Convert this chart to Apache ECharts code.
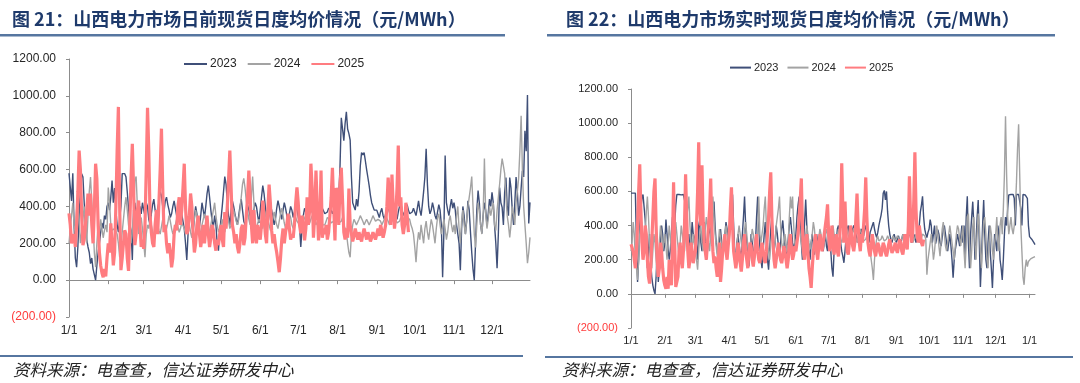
<!DOCTYPE html>
<html>
<head>
<meta charset="utf-8">
<script src="https://cdn.jsdelivr.net/npm/echarts@6.0.0/dist/echarts.min.js"></script>
<style>
html,body{margin:0;padding:0;background:#fff;}
#chart{width:1080px;height:383px;}
</style>
</head>
<body>
<div id="chart"></div>
<script>
// ---------- labels & structure ----------
const monthDays = [31,28,31,30,31,30,31,31,30,31,30,31];
const extraDaysRight = 6; // real-time chart runs a few days into next January
const seriesNames = ['2023','2024','2025'];
const yTicks = [-200,0,200,400,600,800,1000,1200];
const titleLeft = '图 21：山西电力市场日前现货日度均价情况（元/MWh）';
const titleRight = '图 22：山西电力市场实时现货日度均价情况（元/MWh）';
const sourceText = '资料来源：电查查，信达证券研发中心';

// ---------- 日前 (day-ahead) daily averages ----------
const da2023 = [
/*Jan*/580,575,430,580,300,120,70,180,350,480,578,560,420,300,220,180,150,90,120,60,30,0,80,150,200,260,310,280,350,330,400,
/*Feb*/420,380,450,540,420,500,380,300,260,330,400,578,578,578,560,480,390,300,270,110,380,420,350,300,380,400,360,420,
/*Mar*/380,350,420,400,330,300,360,410,440,380,350,390,420,480,460,400,370,430,450,410,380,340,360,400,430,390,350,370,410,380,360,
/*Apr*/350,280,200,110,250,330,380,300,260,340,400,360,310,290,350,420,380,340,400,470,513,450,380,320,290,350,300,200,160,260,
/*May*/330,400,480,562,520,420,350,300,380,430,400,360,330,300,350,400,440,380,320,300,340,410,380,350,300,330,380,420,400,350,310,
/*Jun*/380,450,513,470,400,330,300,360,410,380,340,300,330,390,432,400,360,330,380,420,390,350,320,360,400,380,340,370,410,390,
/*Jul*/380,300,180,280,350,390,370,340,360,380,400,370,350,360,390,380,360,340,370,390,380,360,350,370,390,400,380,360,380,400,420,
/*Aug*/400,450,620,881,820,757,850,914,820,795,760,560,420,400,380,440,400,480,620,692,680,692,648,600,557,513,460,420,400,380,390,
/*Sep*/380,360,340,370,390,350,330,360,380,400,370,350,340,360,380,350,330,370,400,420,380,350,360,390,410,380,360,350,370,390,
/*Oct*/370,350,390,430,380,350,410,480,560,713,520,400,360,380,420,390,350,330,370,410,380,300,16,260,676,420,380,350,400,440,390,
/*Nov*/420,380,300,250,200,54,280,400,350,250,320,430,380,260,150,60,0,200,380,486,420,300,254,350,420,380,300,360,440,400,
/*Dec*/476,420,300,200,65,250,503,420,395,300,480,557,400,350,557,500,380,300,420,560,480,350,400,500,594,560,811,700,1005,308,422
];
const da2024 = [
/*Jan*/200,280,350,420,300,250,380,450,320,200,260,330,400,300,200,350,480,560,420,300,150,70,200,300,260,330,280,230,270,300,260,
/*Feb*/503,420,300,270,260,280,270,250,200,124,180,260,330,400,450,380,300,250,200,280,350,540,562,400,250,300,340,280,
/*Mar*/200,124,250,300,280,330,300,260,240,280,320,300,270,250,290,330,300,260,280,310,350,320,280,250,270,300,330,290,260,280,310,
/*Apr*/300,280,250,320,350,300,260,230,280,330,380,350,300,270,250,300,330,360,320,280,250,270,300,340,380,420,350,300,260,280,
/*May*/300,330,280,260,300,350,320,280,300,340,380,350,320,300,330,380,450,520,552,500,430,380,330,300,450,562,420,300,280,310,330,
/*Jun*/330,300,280,320,350,380,330,300,270,300,340,370,330,300,280,320,360,390,350,310,280,300,330,360,340,300,280,310,340,320,
/*Jul*/320,300,310,330,350,340,320,300,290,310,330,350,340,320,300,310,330,340,320,300,290,300,320,340,350,330,310,300,320,340,330,
/*Aug*/330,310,300,320,340,300,280,260,200,150,124,250,300,330,320,300,310,330,350,340,320,300,310,330,320,300,310,330,350,340,320,
/*Sep*/310,330,340,320,300,310,330,350,340,320,300,310,320,340,350,330,310,300,320,340,330,310,300,320,340,350,330,300,280,250,
/*Oct*/180,97,200,260,220,300,250,200,280,320,260,220,280,330,300,250,200,280,340,360,300,250,290,330,280,220,260,320,350,300,260,
/*Nov*/300,250,350,400,280,200,320,380,300,250,330,400,449,500,562,400,250,178,300,420,380,300,250,350,660,360,280,330,400,350,
/*Dec*/350,420,300,270,380,450,520,600,660,620,578,450,350,300,232,300,400,360,300,420,480,550,700,892,600,400,300,200,92,150,232
];
const da2025 = [
/*Jan*/362,300,200,190,250,180,300,480,703,600,350,190,220,300,380,470,350,470,300,200,380,632,550,300,150,80,40,15,60,20,120,
/*Feb*/200,150,308,200,80,150,400,700,940,400,54,120,200,270,250,120,50,300,560,740,500,190,250,380,432,300,180,220,
/*Mar*/170,300,600,935,700,350,260,200,180,300,380,250,420,600,822,500,260,300,200,146,200,150,70,120,250,300,270,400,450,300,380,
/*Apr*/500,632,400,250,270,350,470,400,250,150,200,300,350,250,180,230,300,200,280,350,250,180,230,300,270,200,160,220,190,250,
/*May*/300,220,180,370,280,400,550,703,500,300,260,200,250,180,146,200,280,300,190,230,350,450,595,450,300,200,380,250,200,300,250,
/*Jun*/220,300,432,350,250,200,380,519,420,270,200,250,190,150,100,43,120,220,280,200,260,300,360,280,220,250,230,300,420,503,
/*Jul*/420,300,254,350,300,216,280,450,300,380,632,500,230,350,595,400,216,300,595,230,280,250,300,220,260,350,450,610,400,216,500,
/*Aug*/480,300,520,610,430,260,220,280,230,497,300,250,210,240,280,250,220,260,230,210,250,280,250,220,260,240,210,230,260,240,220,
/*Sep*/250,280,240,300,270,230,260,300,400,557,450,300,573,400,280,350,500,730,400,450,300,250,300,420,350,260
];

// ---------- 实时 (real-time) daily averages ----------
const rt2023 = [
/*Jan*/590,585,590,580,590,300,70,200,400,494,560,582,582,435,300,150,250,350,200,100,50,20,0,100,250,70,150,300,400,350,250,
/*Feb*/300,435,350,260,200,259,350,450,300,400,520,582,582,582,582,580,582,582,582,520,400,300,350,250,300,420,350,300,
/*Mar*/350,280,200,400,435,300,250,350,420,300,200,250,330,400,350,280,450,541,400,300,250,200,318,380,300,220,280,350,420,380,300,
/*Apr*/300,400,500,582,400,250,200,300,350,280,200,250,350,450,570,400,300,220,160,250,350,300,250,200,300,450,570,400,280,200,
/*May*/150,250,350,420,300,200,141,250,380,450,350,250,300,400,350,280,220,300,380,430,350,280,200,250,320,400,450,380,300,250,300,
/*Jun*/350,450,520,570,400,300,200,300,420,553,400,300,250,200,300,350,280,230,300,350,300,250,280,330,300,250,300,350,280,250,
/*Jul*/350,300,250,150,100,250,350,300,380,400,350,300,250,220,182,250,330,380,400,350,300,330,380,400,380,350,320,300,330,350,380,
/*Aug*/360,340,380,400,350,330,300,360,380,400,420,380,350,330,360,400,430,460,500,590,606,550,600,480,400,350,320,300,330,350,320,
/*Sep*/300,320,340,310,290,320,350,330,300,280,310,340,360,330,300,320,350,330,300,320,340,400,480,520,571,450,380,350,330,360,
/*Oct*/380,435,400,300,350,400,294,330,376,350,300,280,330,380,400,350,300,250,300,350,280,200,94,200,259,300,350,318,280,330,400,
/*Nov*/300,400,200,450,571,300,150,350,450,540,400,200,300,450,550,300,41,200,400,550,350,200,150,300,400,250,150,35,200,350,
/*Dec*/300,250,400,350,200,150,82,200,350,450,400,500,580,582,582,580,582,560,400,582,582,582,580,500,400,582,582,580,582,560,400,
/*Jan+*/335,340,320,310,300,288
];
const rt2024 = [
/*Jan*/250,300,420,350,200,150,82,200,350,450,400,300,250,350,480,570,450,300,200,150,250,350,300,200,100,150,300,400,350,250,300,
/*Feb*/350,280,200,300,400,330,250,200,300,380,420,350,280,220,300,400,350,300,250,350,450,500,570,400,300,250,350,300,
/*Mar*/250,200,141,250,350,400,300,250,300,380,450,400,300,250,350,450,570,450,350,280,220,300,380,330,280,250,300,350,400,350,300,
/*Apr*/350,450,570,400,300,250,200,280,350,400,350,300,250,300,380,420,350,280,220,260,320,380,350,300,250,300,350,570,350,300,
/*May*/350,400,500,570,400,300,250,200,300,350,300,250,300,400,450,500,570,400,300,250,300,350,300,250,300,450,570,500,570,400,300,
/*Jun*/250,300,380,420,350,300,250,200,280,350,400,350,300,260,300,350,420,380,300,250,280,330,380,350,300,270,300,340,380,350,
/*Jul*/330,300,350,380,400,350,320,300,340,380,360,330,300,320,350,380,400,370,340,320,300,330,360,380,350,320,300,330,360,380,350,
/*Aug*/330,310,300,320,340,300,280,250,200,150,82,200,280,320,340,310,300,320,340,330,310,300,320,340,330,310,300,320,340,330,310,
/*Sep*/320,340,330,310,300,320,350,330,310,300,320,340,360,340,320,300,310,330,350,340,320,300,310,330,350,360,340,320,112,200,
/*Oct*/250,300,350,280,200,250,330,400,350,280,220,300,380,420,350,280,250,300,350,400,350,300,250,200,280,350,400,380,320,280,350,
/*Nov*/400,250,150,300,450,470,300,150,250,400,450,300,200,350,470,400,250,150,300,420,450,350,200,150,300,400,350,250,200,300,
/*Dec*/350,450,300,250,400,450,350,500,700,1041,700,450,350,400,450,380,350,400,500,650,850,994,700,400,250,100,53,150,200,159,190,
/*Jan+*/200,205,210,212,215,218
];
const rt2025 = [
/*Jan*/290,280,250,200,150,250,400,600,759,500,300,200,250,400,350,200,100,60,150,300,450,600,676,400,200,100,150,300,250,150,80,
/*Feb*/50,30,100,30,200,150,50,300,653,300,40,30,100,250,300,200,150,250,400,700,450,250,150,200,300,250,180,220,
/*Mar*/250,400,600,888,500,400,753,450,300,250,200,300,400,500,676,400,250,180,220,150,100,200,300,70,150,250,300,350,250,200,280,
/*Apr*/350,500,624,400,250,200,150,200,300,250,180,130,200,300,350,250,200,150,250,300,280,200,160,220,300,350,250,200,180,250,
/*May*/300,250,200,180,250,350,450,600,712,450,300,200,150,200,250,300,250,200,180,220,280,250,200,150,200,300,350,250,200,230,280,
/*Jun*/250,300,350,450,550,676,400,250,200,300,350,250,150,100,35,150,250,300,350,250,200,280,350,300,250,300,350,400,450,524,
/*Jul*/350,250,300,400,280,230,300,350,250,220,300,450,765,500,300,541,350,250,230,300,400,350,280,250,300,450,588,400,300,250,350,
/*Aug*/300,400,500,682,450,300,250,220,280,350,300,250,220,260,300,280,240,220,260,300,280,240,220,250,290,320,280,240,230,270,300,
/*Sep*/260,240,280,320,300,250,230,280,350,300,260,400,688,450,300,350,550,829,500,350,300,400,350,300,280,318
];

// ---------- build category axes ----------
function buildDays(extra) {
  const cats = [];
  monthDays.forEach((n, m) => { for (let d = 1; d <= n; d++) cats.push((m + 1) + '/' + d); });
  for (let d = 1; d <= extra; d++) cats.push('1/' + d);
  return cats;
}
const daysLeft = buildDays(0);
const daysRight = buildDays(extraDaysRight);
const isMonthStart = (i, v) => /\/1$/.test(v);

const FONT = '"Liberation Sans", Arial, Helvetica, sans-serif';
const CJK = '"Noto Sans CJK SC", sans-serif';
const COLORS = {'2023': '#3f4f78', '2024': '#a3a3a3', '2025': '#ff7c80'};
const WIDTHS = {'2023': 1.4, '2024': 1.4, '2025': 3.2};
const RULE = '#5676a0';

function yAxis(grid, fs) {
  return {
    type: 'value', gridIndex: grid, min: -200, max: 1200, interval: 200,
    axisLine: {show: true, lineStyle: {color: '#8c8c8c', width: 1}},
    axisTick: {show: true, length: 3, lineStyle: {color: '#8c8c8c'}},
    splitLine: {show: false},
    axisLabel: {
      margin: 13, fontSize: fs, fontFamily: FONT, color: '#262626',
      formatter: v => v < 0 ? '{neg|(' + Math.abs(v).toFixed(2) + ')}' : v.toFixed(2),
      rich: {neg: {color: '#ff3b3b', fontSize: fs, fontFamily: FONT}}
    }
  };
}
function xAxes(grid, cats, fs, margin) {
  return [
    { // zero line with month ticks
      type: 'category', gridIndex: grid, data: cats, boundaryGap: false,
      axisLine: {show: true, onZero: true, lineStyle: {color: '#8c8c8c', width: 1}},
      axisTick: {show: true, length: 4, interval: isMonthStart, lineStyle: {color: '#8c8c8c'}},
      axisLabel: {show: false}, splitLine: {show: false}
    },
    { // month labels at the bottom
      type: 'category', gridIndex: grid, data: cats, boundaryGap: false, position: 'bottom',
      axisLine: {show: false, onZero: false}, axisTick: {show: false},
      axisLabel: {show: true, interval: isMonthStart, margin: margin, fontSize: fs, fontFamily: FONT, color: '#262626', showMinLabel: true, showMaxLabel: true},
      splitLine: {show: false}
    }
  ];
}
function lineSeries(name, data, xi, yi) {
  return {
    name: name, type: 'line', data: data, xAxisIndex: xi, yAxisIndex: yi,
    symbol: 'none', showSymbol: false, smooth: false,
    lineStyle: {color: COLORS[name], width: WIDTHS[name]},
    itemStyle: {color: COLORS[name]},
    emphasis: {disabled: true}
  };
}
function legend(left, top, itemWidth, gap, fs) {
  return {
    data: seriesNames,
    left: left, top: top, padding: 0, itemWidth: itemWidth, itemHeight: 14, itemGap: gap,
    itemStyle: {opacity: 0, borderWidth: 0},
    textStyle: {fontSize: fs, fontFamily: FONT, color: '#262626', padding: [0, 0, 0, -2]},
    selectedMode: false
  };
}

const chart = echarts.init(document.getElementById('chart'), null, {renderer: 'canvas'});
chart.setOption({
  animation: false,
  backgroundColor: '#ffffff',
  grid: [
    {left: 69, top: 59, right: 550, bottom: 66},
    {left: 631, top: 89, right: 45, bottom: 55}
  ],
  xAxis: [...xAxes(0, daysLeft, 12, 8), ...xAxes(1, daysRight, 11, 7)],
  yAxis: [yAxis(0, 12), yAxis(1, 11)],
  legend: [legend(183, 58, 23, 10, 12), legend(729, 62, 21, 8, 11)],
  series: [
    lineSeries('2023', da2023, 0, 0),
    lineSeries('2024', da2024, 0, 0),
    lineSeries('2025', da2025, 0, 0),
    lineSeries('2023', rt2023, 2, 1),
    lineSeries('2024', rt2024, 2, 1),
    lineSeries('2025', rt2025, 2, 1)
  ],
  graphic: [
    {type: 'text', left: 12, top: 10, style: {text: titleLeft, fontSize: 18, fontWeight: 'bold', fontFamily: CJK, fill: '#1e3a6b'}},
    {type: 'text', left: 566, top: 10, style: {text: titleRight, fontSize: 18, fontWeight: 'bold', fontFamily: CJK, fill: '#1e3a6b'}},
    {type: 'rect', shape: {x: 0, y: 34, width: 505, height: 2.5}, style: {fill: RULE}},
    {type: 'rect', shape: {x: 547, y: 34, width: 508, height: 2.5}, style: {fill: RULE}},
    {type: 'rect', shape: {x: 0, y: 355, width: 523, height: 2}, style: {fill: RULE}},
    {type: 'rect', shape: {x: 545, y: 356, width: 528, height: 2}, style: {fill: RULE}},
    {type: 'text', left: 13, top: 361, style: {text: sourceText, fontSize: 16.5, fontStyle: 'italic', fontFamily: CJK, fill: '#222'}},
    {type: 'text', left: 562, top: 361, style: {text: sourceText, fontSize: 16.5, fontStyle: 'italic', fontFamily: CJK, fill: '#222'}}
  ]
});
</script>
</body>
</html>
